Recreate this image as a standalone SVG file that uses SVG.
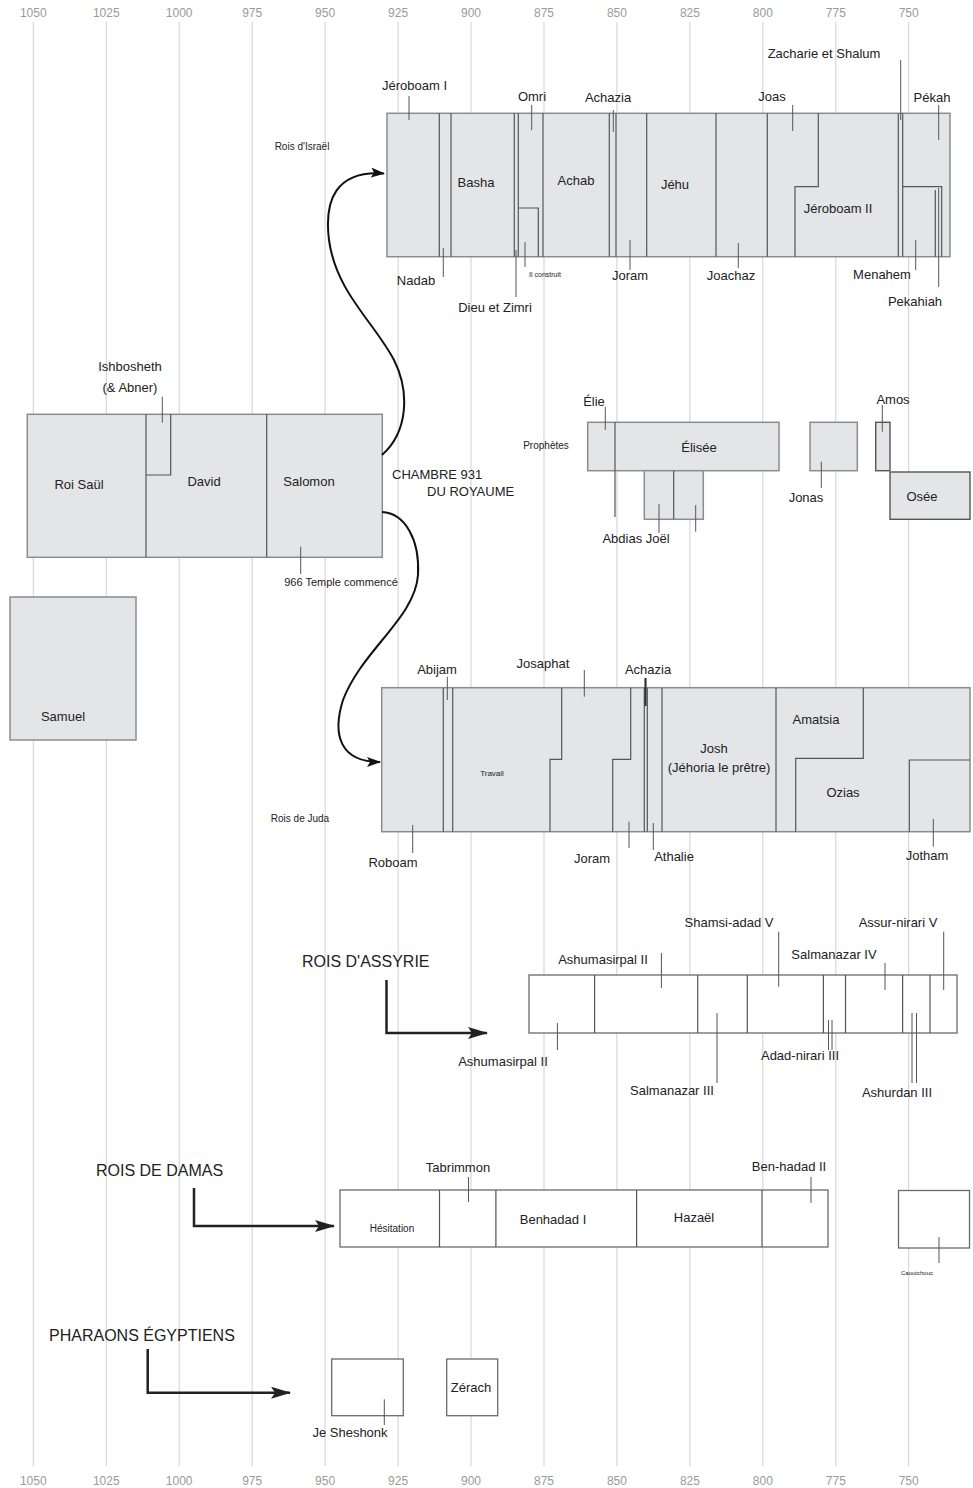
<svg xmlns="http://www.w3.org/2000/svg" width="973" height="1488" viewBox="0 0 973 1488">
  <defs>
    <style>
      text { font-family: "Liberation Sans", Arial, sans-serif; fill: #222; }
      .yr { font-size: 12px; fill: #9a9a9a; text-anchor: middle; }
      .lb { font-size: 13px; text-anchor: middle; }
      .sm { font-size: 10px; text-anchor: middle; }
      .xs { font-size: 7px; text-anchor: middle; }
      .hd { font-size: 16px; }
      .grid line { stroke: #cfcfcf; stroke-width: 1; }
      .band { fill: #e4e5e7; stroke: #8c8c8c; stroke-width: 1.5; }
      .open { fill: #ffffff; stroke: #6a6a6a; stroke-width: 1.3; }
      .dark { fill: #e4e5e7; stroke: #555; stroke-width: 1.4; }
      .div { fill: none; stroke: #555; stroke-width: 1.2; }
      .tick { stroke: #555; stroke-width: 1; }
      .curve { fill: none; stroke: #111; stroke-width: 2; }
      .elbow { fill: none; stroke: #222; stroke-width: 2.5; }
    </style>
    <marker id="head" markerWidth="14" markerHeight="10" refX="13" refY="5" orient="auto" markerUnits="userSpaceOnUse">
      <path d="M0,0 L14,5 L0,10 L3,5 z" fill="#111"/>
    </marker>
    <marker id="headBig" markerWidth="20" markerHeight="12" refX="19" refY="6" orient="auto" markerUnits="userSpaceOnUse">
      <path d="M0,0 L20,6 L0,12 L4,6 z" fill="#222"/>
    </marker>
  </defs>

  <rect width="973" height="1488" fill="#ffffff"/>

  <!-- time axis: one vertical line every 25 years -->
  <g id="axis">
    <g class="grid">
      <line x1="33.3" y1="22" x2="33.3" y2="1466"/>
      <line x1="106.3" y1="22" x2="106.3" y2="1466"/>
      <line x1="179.2" y1="22" x2="179.2" y2="1466"/>
      <line x1="252.2" y1="22" x2="252.2" y2="1466"/>
      <line x1="325.1" y1="22" x2="325.1" y2="1466"/>
      <line x1="398.1" y1="22" x2="398.1" y2="1466"/>
      <line x1="471" y1="22" x2="471" y2="1466"/>
      <line x1="544" y1="22" x2="544" y2="1466"/>
      <line x1="616.9" y1="22" x2="616.9" y2="1466"/>
      <line x1="689.9" y1="22" x2="689.9" y2="1466"/>
      <line x1="762.8" y1="22" x2="762.8" y2="1466"/>
      <line x1="835.8" y1="22" x2="835.8" y2="1466"/>
      <line x1="908.7" y1="22" x2="908.7" y2="1466"/>
    </g>
    <g>
      <text class="yr" x="33.3" y="17">1050</text>
      <text class="yr" x="106.3" y="17">1025</text>
      <text class="yr" x="179.2" y="17">1000</text>
      <text class="yr" x="252.2" y="17">975</text>
      <text class="yr" x="325.1" y="17">950</text>
      <text class="yr" x="398.1" y="17">925</text>
      <text class="yr" x="471" y="17">900</text>
      <text class="yr" x="544" y="17">875</text>
      <text class="yr" x="616.9" y="17">850</text>
      <text class="yr" x="689.9" y="17">825</text>
      <text class="yr" x="762.8" y="17">800</text>
      <text class="yr" x="835.8" y="17">775</text>
      <text class="yr" x="908.7" y="17">750</text>
      <text class="yr" x="33.3" y="1485">1050</text>
      <text class="yr" x="106.3" y="1485">1025</text>
      <text class="yr" x="179.2" y="1485">1000</text>
      <text class="yr" x="252.2" y="1485">975</text>
      <text class="yr" x="325.1" y="1485">950</text>
      <text class="yr" x="398.1" y="1485">925</text>
      <text class="yr" x="471" y="1485">900</text>
      <text class="yr" x="544" y="1485">875</text>
      <text class="yr" x="616.9" y="1485">850</text>
      <text class="yr" x="689.9" y="1485">825</text>
      <text class="yr" x="762.8" y="1485">800</text>
      <text class="yr" x="835.8" y="1485">775</text>
      <text class="yr" x="908.7" y="1485">750</text>
    </g>
  </g>

  <!-- United monarchy -->
  <g id="united-kingdom">
    <rect class="band" x="27.3" y="414.3" width="355" height="143"/>
    <line class="div" x1="146" y1="414.3" x2="146" y2="557.3"/>
    <line class="div" x1="266.7" y1="414.3" x2="266.7" y2="557.3"/>
    <path class="div" d="M146,475 H170.7 V414.3"/>
    <line class="tick" x1="162.3" y1="396.7" x2="162.3" y2="422.7"/>
    <line class="tick" x1="300.7" y1="546.7" x2="300.7" y2="574"/>
    <text class="lb" x="130" y="371">Ishbosheth</text>
    <text class="lb" x="130" y="392">(&amp; Abner)</text>
    <text class="lb" x="79" y="489">Roi Saül</text>
    <text class="lb" x="204" y="486">David</text>
    <text class="lb" x="309" y="486">Salomon</text>
    <text x="341" y="586" font-size="11" text-anchor="middle">966 Temple commencé</text>
    <text x="392" y="479" font-size="13">CHAMBRE 931</text>
    <text x="427" y="496" font-size="13">DU ROYAUME</text>
  </g>

  <g id="samuel">
    <rect class="band" x="10" y="597" width="126" height="143"/>
    <text class="lb" x="63" y="721">Samuel</text>
  </g>

  <!-- Kings of Israel -->
  <g id="israel">
    <rect class="band" x="387" y="113.3" width="563" height="143.4"/>
    <line class="div" x1="439.3" y1="113.3" x2="439.3" y2="256.7"/>
    <line class="div" x1="451" y1="113.3" x2="451" y2="256.7"/>
    <line class="div" x1="514.3" y1="113.3" x2="514.3" y2="256.7"/>
    <line class="div" x1="518.3" y1="113.3" x2="518.3" y2="256.7"/>
    <line class="div" x1="543" y1="113.3" x2="543" y2="256.7"/>
    <path class="div" d="M518.3,208 H538.3 V256.7"/>
    <line class="div" x1="609.3" y1="113.3" x2="609.3" y2="256.7"/>
    <line class="div" x1="616" y1="113.3" x2="616" y2="256.7"/>
    <line class="div" x1="646.7" y1="113.3" x2="646.7" y2="256.7"/>
    <line class="div" x1="716" y1="113.3" x2="716" y2="256.7"/>
    <line class="div" x1="767.3" y1="113.3" x2="767.3" y2="256.7"/>
    <path class="div" d="M818.3,113.3 V186.7 H795 V256.7"/>
    <line class="div" x1="898.3" y1="113.3" x2="898.3" y2="256.7"/>
    <line class="div" x1="902.7" y1="113.3" x2="902.7" y2="256.7"/>
    <path class="div" d="M902.7,186.7 H941.7 V256.7"/>
    <line class="div" x1="935.3" y1="190" x2="935.3" y2="256.7"/>

    <line class="tick" x1="409" y1="96" x2="409" y2="120"/>
    <line class="tick" x1="531.7" y1="105" x2="531.7" y2="130"/>
    <line class="tick" x1="613.3" y1="110" x2="613.3" y2="132"/>
    <line class="tick" x1="792.7" y1="105" x2="792.7" y2="131"/>
    <line class="tick" x1="900.7" y1="60" x2="900.7" y2="120" stroke-width="1.4"/>
    <line class="tick" x1="938.7" y1="105" x2="938.7" y2="140"/>
    <line class="tick" x1="443.3" y1="248" x2="443.3" y2="277"/>
    <line class="tick" x1="516" y1="250" x2="516" y2="297"/>
    <line class="tick" x1="525" y1="242" x2="525" y2="267"/>
    <line class="tick" x1="630" y1="240" x2="630" y2="270"/>
    <line class="tick" x1="738.3" y1="243" x2="738.3" y2="268"/>
    <line class="tick" x1="915.7" y1="240" x2="915.7" y2="270"/>
    <line class="tick" x1="938.7" y1="188" x2="938.7" y2="287"/>

    <text class="lb" x="414.5" y="90">Jéroboam I</text>
    <text class="lb" x="532" y="101">Omri</text>
    <text class="lb" x="608" y="102">Achazia</text>
    <text class="lb" x="772" y="101">Joas</text>
    <text class="lb" x="824" y="58">Zacharie et Shalum</text>
    <text class="lb" x="932" y="102">Pékah</text>
    <text class="lb" x="476" y="187">Basha</text>
    <text class="lb" x="576" y="185">Achab</text>
    <text class="lb" x="675" y="189">Jéhu</text>
    <text class="lb" x="838" y="213">Jéroboam II</text>
    <text class="lb" x="416" y="285">Nadab</text>
    <text class="lb" x="495" y="312">Dieu et Zimri</text>
    <text class="xs" x="545" y="277">Il construit</text>
    <text class="lb" x="630" y="280">Joram</text>
    <text class="lb" x="731" y="280">Joachaz</text>
    <text class="lb" x="882" y="279">Menahem</text>
    <text class="lb" x="915" y="306">Pekahiah</text>
    <text class="sm" x="302" y="150">Rois d'Israël</text>
  </g>

  <!-- Prophets -->
  <g id="prophets">
    <rect class="band" x="587.7" y="422.3" width="191.3" height="48.4"/>
    <line class="div" x1="615" y1="422.3" x2="615" y2="517"/>
    <line class="tick" x1="605.3" y1="406.7" x2="605.3" y2="430"/>
    <rect class="band" x="644.3" y="470.7" width="59" height="48.6"/>
    <line class="div" x1="673.7" y1="470.7" x2="673.7" y2="519.3"/>
    <line class="tick" x1="659" y1="504" x2="659" y2="533"/>
    <line class="tick" x1="695.7" y1="505" x2="695.7" y2="531.7"/>
    <rect class="band" x="810" y="422.3" width="47.3" height="48.4"/>
    <line class="tick" x1="821.3" y1="461.7" x2="821.3" y2="488"/>
    <rect class="dark" x="875.7" y="422.3" width="14.3" height="48.4"/>
    <line class="tick" x1="882.3" y1="405" x2="882.3" y2="431.7"/>
    <rect class="dark" x="890" y="472" width="80" height="47.3"/>
    <text class="lb" x="594" y="406">Élie</text>
    <text class="sm" x="546" y="449">Prophètes</text>
    <text class="lb" x="699" y="452">Élisée</text>
    <text class="lb" x="636" y="543">Abdias Joël</text>
    <text class="lb" x="806" y="502">Jonas</text>
    <text class="lb" x="893" y="404">Amos</text>
    <text class="lb" x="922" y="501">Osée</text>
  </g>

  <!-- Kings of Judah -->
  <g id="judah">
    <rect class="band" x="381.7" y="687.7" width="588.3" height="144"/>
    <line class="div" x1="443.3" y1="687.7" x2="443.3" y2="831.7"/>
    <line class="div" x1="452.7" y1="687.7" x2="452.7" y2="831.7"/>
    <path class="div" d="M561.7,687.7 V759.3 H550 V831.7"/>
    <path class="div" d="M630.7,687.7 V759.3 H612.7 V831.7"/>
    <line class="div" x1="644.3" y1="687.7" x2="644.3" y2="831.7"/>
    <line class="div" x1="647.3" y1="687.7" x2="647.3" y2="831.7"/>
    <line class="div" x1="662" y1="687.7" x2="662" y2="831.7"/>
    <line class="div" x1="776" y1="687.7" x2="776" y2="831.7"/>
    <path class="div" d="M863.3,687.7 V758.3 H795.7 V831.7"/>
    <path class="div" d="M970,760 H909.3 V831.7"/>

    <line class="tick" x1="447.3" y1="676.7" x2="447.3" y2="700"/>
    <line class="tick" x1="584.3" y1="670" x2="584.3" y2="696.7"/>
    <line x1="645.5" y1="678" x2="645.5" y2="706" stroke="#333" stroke-width="2.2"/>
    <line class="tick" x1="412.7" y1="825" x2="412.7" y2="853"/>
    <line class="tick" x1="629" y1="821.7" x2="629" y2="848"/>
    <line class="tick" x1="653.3" y1="823" x2="653.3" y2="850"/>
    <line class="tick" x1="933.3" y1="819" x2="933.3" y2="846.7"/>

    <text class="lb" x="437" y="674">Abijam</text>
    <text class="lb" x="543" y="668">Josaphat</text>
    <text class="lb" x="648" y="674">Achazia</text>
    <text x="492" y="776" font-size="8" text-anchor="middle">Travail</text>
    <text class="lb" x="714" y="753">Josh</text>
    <text class="lb" x="719" y="772">(Jéhoria le prêtre)</text>
    <text class="lb" x="816" y="724">Amatsia</text>
    <text class="lb" x="843" y="797">Ozias</text>
    <text class="lb" x="393" y="867">Roboam</text>
    <text class="lb" x="592" y="863">Joram</text>
    <text class="lb" x="674" y="861">Athalie</text>
    <text class="lb" x="927" y="860">Jotham</text>
    <text class="sm" x="300" y="822">Rois de Juda</text>
  </g>

  <!-- Kings of Assyria -->
  <g id="assyria">
    <rect class="open" x="529" y="975" width="428" height="58"/>
    <line class="div" x1="594.6" y1="975" x2="594.6" y2="1033"/>
    <line class="div" x1="697.7" y1="975" x2="697.7" y2="1033"/>
    <line class="div" x1="747.3" y1="975" x2="747.3" y2="1033"/>
    <line class="div" x1="823.4" y1="975" x2="823.4" y2="1033"/>
    <line class="div" x1="845.5" y1="975" x2="845.5" y2="1033"/>
    <line class="div" x1="902.6" y1="975" x2="902.6" y2="1033"/>
    <line class="div" x1="930" y1="975" x2="930" y2="1033"/>
    <line class="tick" x1="661.4" y1="953" x2="661.4" y2="988"/>
    <line class="tick" x1="778.7" y1="931.7" x2="778.7" y2="986.7"/>
    <line class="tick" x1="885" y1="963" x2="885" y2="990"/>
    <line class="tick" x1="943.7" y1="931.7" x2="943.7" y2="990"/>
    <line class="tick" x1="557.4" y1="1023" x2="557.4" y2="1050"/>
    <line class="tick" x1="717" y1="1013" x2="717" y2="1083"/>
    <line class="tick" x1="828.5" y1="1020" x2="828.5" y2="1050"/>
    <line class="tick" x1="832" y1="1020" x2="832" y2="1050"/>
    <line class="tick" x1="912" y1="1013" x2="912" y2="1083"/>
    <line class="tick" x1="916.5" y1="1013" x2="916.5" y2="1083"/>
    <text class="hd" x="302" y="967">ROIS D'ASSYRIE</text>
    <text class="lb" x="603" y="964">Ashumasirpal II</text>
    <text class="lb" x="729" y="927">Shamsi-adad V</text>
    <text class="lb" x="834" y="959">Salmanazar IV</text>
    <text class="lb" x="898" y="927">Assur-nirari V</text>
    <text class="lb" x="503" y="1066">Ashumasirpal II</text>
    <text class="lb" x="672" y="1095">Salmanazar III</text>
    <text class="lb" x="800" y="1060">Adad-nirari III</text>
    <text class="lb" x="897" y="1097">Ashurdan III</text>
  </g>

  <!-- Kings of Damascus -->
  <g id="damascus">
    <rect class="open" x="340" y="1190" width="488" height="57"/>
    <line class="div" x1="439.5" y1="1190" x2="439.5" y2="1247"/>
    <line class="div" x1="495.9" y1="1190" x2="495.9" y2="1247"/>
    <line class="div" x1="636.6" y1="1190" x2="636.6" y2="1247"/>
    <line class="div" x1="762" y1="1190" x2="762" y2="1247"/>
    <line class="tick" x1="468.5" y1="1177" x2="468.5" y2="1202"/>
    <line class="tick" x1="811" y1="1177" x2="811" y2="1203"/>
    <rect class="open" x="898.5" y="1190.5" width="71" height="57.5"/>
    <line class="tick" x1="939" y1="1237" x2="939" y2="1263"/>
    <text class="hd" x="96" y="1176">ROIS DE DAMAS</text>
    <text class="lb" x="458" y="1172">Tabrimmon</text>
    <text class="lb" x="789" y="1171">Ben-hadad II</text>
    <text class="sm" x="392" y="1232">Hésitation</text>
    <text class="lb" x="553" y="1224">Benhadad I</text>
    <text class="lb" x="694" y="1222">Hazaël</text>
    <text x="917" y="1275" font-size="6" text-anchor="middle">Caoutchouc</text>
  </g>

  <!-- Egyptian pharaohs -->
  <g id="egypt">
    <rect class="open" x="331.7" y="1359" width="71.6" height="56.7"/>
    <line class="tick" x1="384.3" y1="1399.3" x2="384.3" y2="1425"/>
    <rect class="open" x="446.7" y="1359" width="51" height="56.7"/>
    <text class="hd" x="49" y="1341">PHARAONS ÉGYPTIENS</text>
    <text class="lb" x="350" y="1437">Je Sheshonk</text>
    <text class="lb" x="471" y="1392">Zérach</text>
  </g>

  <!-- connectors -->
  <g id="connectors">
    <path class="curve" marker-end="url(#head)" d="M382,455 C408,432 410,392 394,360 C374,322 336,292 329,240 C324,200 336,170 384,173.5"/>
    <path class="curve" marker-end="url(#head)" d="M382,512 C405,513 420,540 418,575 C415,618 362,650 343,700 C332,735 340,762 380,762"/>
    <path class="elbow" marker-end="url(#headBig)" d="M386.5,980 V1033 H487"/>
    <path class="elbow" marker-end="url(#headBig)" d="M194,1188 V1226 H334"/>
    <path class="elbow" marker-end="url(#headBig)" d="M147.7,1349 V1392.7 H290"/>
  </g>
</svg>
